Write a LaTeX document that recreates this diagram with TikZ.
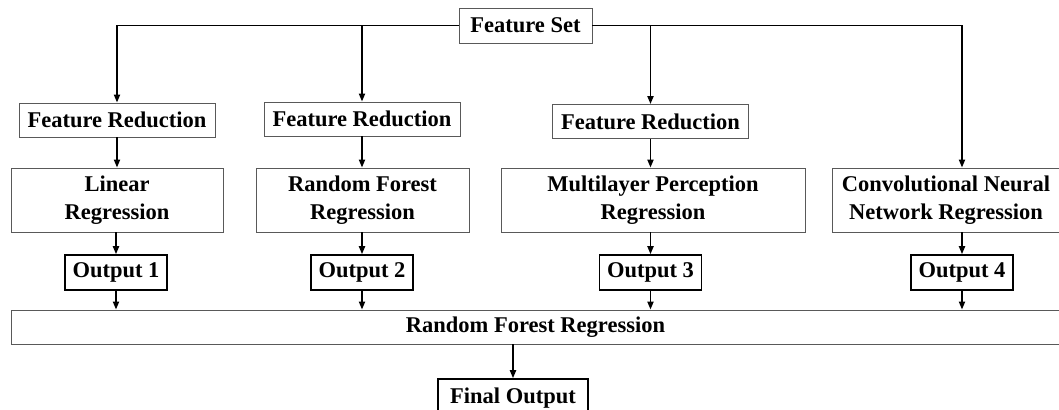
\documentclass[tikz,border=0pt]{standalone}
\usepackage{fontspec}
\setmainfont{Liberation Serif}
\usetikzlibrary{arrows.meta}
\begin{document}
\begin{tikzpicture}[
    x=0.025cm, y=-0.025cm,
    font=\fontsize{16}{19.5}\selectfont\bfseries,
    box/.style={
      draw=black!65,
      line width=0.6pt,
      inner sep=1pt,
      align=center
    },
    outbox/.style={
      draw=black,
      line width=1.1pt,
      inner sep=1pt,
      minimum width=2.55cm,
      minimum height=0.875cm
    },
    flow/.style={
      line width=1.3pt,
      -{Triangle[length=2mm,width=1.5mm]}
    }
  ]
  \useasboundingbox (0,0) rectangle (1059,409);

  \node (fs) at (525.5,25.5) [box,minimum width=3.325cm,minimum height=0.875cm]{Feature Set};

  \node (fr1) at (117,120) [box,minimum width=4.9cm,minimum height=0.85cm]{Feature Reduction};
  \node (fr2) at (362,119) [box,minimum width=4.9cm,minimum height=0.85cm]{Feature Reduction};
  \node (fr3) at (650.5,121.5) [box,minimum width=4.9cm,minimum height=0.85cm]{Feature Reduction};

  \node (reg1) at (117,200) [box,minimum width=5.3cm,minimum height=1.6cm]{Linear\\Regression};
  \node (reg2) at (362.5,200) [box,minimum width=5.325cm,minimum height=1.6cm]{Random Forest\\Regression};
  \node (reg3) at (653,200) [box,minimum width=7.6cm,minimum height=1.6cm]{Multilayer Perception\\Regression};
  \node (reg4) at (946,200) [box,minimum width=5.7cm,minimum height=1.6cm]{Convolutional Neural\\Network Regression};

  \node (out1) at (116,272.5) [outbox]{Output 1};
  \node (out2) at (362,272.5) [outbox]{Output 2};
  \node (out3) at (650.5,272.5) [outbox]{Output 3};
  \node (out4) at (962,272.5) [outbox]{Output 4};

  \node (rf) at (535.5,327) [box,minimum width=26.2cm,minimum height=0.85cm]{Random Forest Regression};
  \node (final) at (513,398) [outbox,minimum width=3.75cm,minimum height=0.95cm]{Final Output};

  \draw[flow] (fs.west) -| (fr1.north);
  \draw[flow] (fs.west) -| (fr2.north);
  \draw[flow] (fs.east) -| (fr3.north);
  \draw[flow] (fs.east) -| (reg4.north -| out4);

  \draw[flow] (fr1.south) -- (fr1.south |- reg1.north);
  \draw[flow] (fr2.south) -- (fr2.south |- reg2.north);
  \draw[flow] (fr3.south) -- (fr3.south |- reg3.north);

  \draw[flow] (reg1.south -| out1) -- (out1.north);
  \draw[flow] (reg2.south -| out2) -- (out2.north);
  \draw[flow] (reg3.south -| out3) -- (out3.north);
  \draw[flow] (reg4.south -| out4) -- (out4.north);

  \draw[flow] (out1.south) -- (out1.south |- rf.north);
  \draw[flow] (out2.south) -- (out2.south |- rf.north);
  \draw[flow] (out3.south) -- (out3.south |- rf.north);
  \draw[flow] (out4.south) -- (out4.south |- rf.north);

  \draw[flow] (rf.south -| final) -- (final.north);

\end{tikzpicture}
\end{document}
